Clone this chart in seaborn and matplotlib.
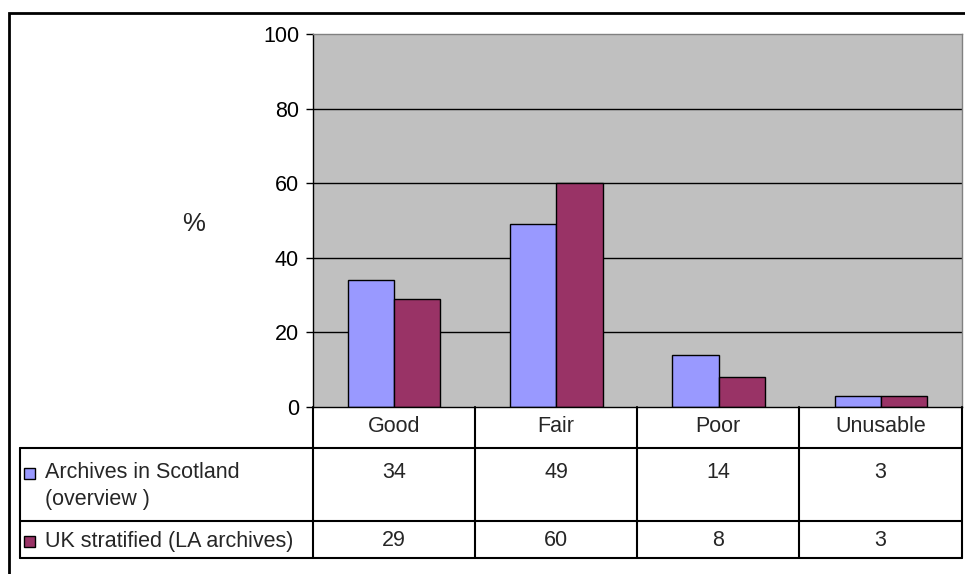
import matplotlib
matplotlib.use('Agg')
import matplotlib.pyplot as plt
import pandas as pd
import seaborn as sns
from matplotlib.lines import Line2D
from matplotlib.patches import Rectangle

categories = ['Good', 'Fair', 'Poor', 'Unusable']
series_names = ['Archives in Scotland\n(overview )', 'UK stratified (LA archives)']
scotland = [34, 49, 14, 3]
uk_stratified = [29, 60, 8, 3]
colors = ['#9999FF', '#993366']
yticks = [0, 20, 40, 60, 80, 100]

sns.set_theme(style='white')
plt.rcParams['font.family'] = ['Liberation Sans', 'DejaVu Sans']
FS = 15.5

df = pd.DataFrame({
    'cat': categories * 2,
    'val': scotland + uk_stratified,
    'series': [series_names[0]] * 4 + [series_names[1]] * 4,
})

W, H = 965, 574
fig = plt.figure(figsize=(W / 100, H / 100), dpi=100)


def fx(px):
    return px / W


def fy(py):
    return 1 - py / H


x0, x1, ytop, ybot = 313, 962, 34, 407
ax = fig.add_axes([fx(x0), fy(ybot), fx(x1 - x0), (ybot - ytop) / H])
ax.set_facecolor('#C0C0C0')
sns.barplot(data=df, x='cat', y='val', hue='series', palette=colors,
            width=0.57, gap=0, edgecolor='black', linewidth=1,
            legend=False, ax=ax, saturation=1)
ax.set_xlim(-0.5, 3.5)
ax.set_ylim(0, 100)
ax.set_yticks(yticks)
ax.set_yticklabels([str(t) for t in yticks], fontsize=FS, color='black')
ax.tick_params(axis='y', left=True, direction='out', length=5, width=1,
               color='black', pad=5)
ax.set_xticks([])
ax.set_xlabel('')
ax.set_ylabel('')
for t in yticks[1:-1]:
    ax.axhline(t, color='black', lw=1, zorder=0.5)
ax.spines['left'].set_color('black')
ax.spines['bottom'].set_color('black')
ax.spines['top'].set_color('#808080')
ax.spines['right'].set_color('#808080')
for s in ax.spines.values():
    s.set_linewidth(1)

fig.text(fx(194), fy(224), '%', fontsize=FS + 3, ha='center', va='center')

# outer frame
fig.add_artist(Rectangle((fx(9), fy(580)), fx(970), (580 - 13) / H,
                         transform=fig.transFigure, fill=False,
                         edgecolor='black', lw=2))

# data table
cols = [313, 475, 637, 799, 962]
lw = 1.5


def hline(xa, xb, y):
    fig.add_artist(Line2D([fx(xa), fx(xb)], [fy(y), fy(y)], color='black', lw=lw))


def vline(x, ya, yb):
    fig.add_artist(Line2D([fx(x), fx(x)], [fy(ya), fy(yb)], color='black', lw=lw))


hline(20, 962, 448)
hline(20, 962, 521)
hline(20, 962, 558)
for c in cols:
    vline(c, 407, 558)
vline(20, 448, 558)

for i, cat in enumerate(categories):
    cx = (cols[i] + cols[i + 1]) / 2
    fig.text(fx(cx), fy(427), cat, fontsize=FS, ha='center', va='center')
    fig.text(fx(cx), fy(472), str(scotland[i]), fontsize=FS, ha='center', va='center')
    fig.text(fx(cx), fy(540), str(uk_stratified[i]), fontsize=FS, ha='center', va='center')

for name, col, ty in zip(series_names, colors, [473, 541]):
    fig.add_artist(Rectangle((fx(24), fy(ty + 6)), fx(11), 11 / H,
                             transform=fig.transFigure, facecolor=col,
                             edgecolor='black', lw=1))
    for k, ln in enumerate(name.split('\n')):
        fig.text(fx(45), fy(ty + 27 * k), ln, fontsize=FS, ha='left', va='center')

fig.savefig('out.png', dpi=100)
